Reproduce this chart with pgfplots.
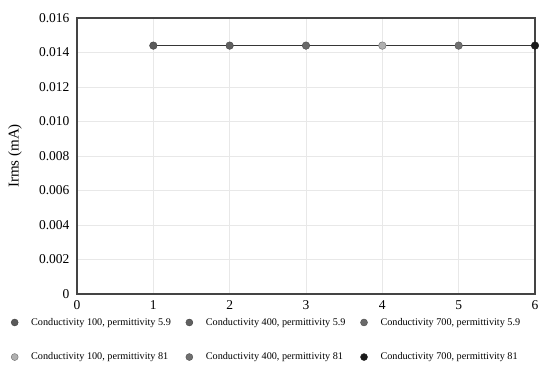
\documentclass[border=0pt]{standalone}
\usepackage{pgfplots}
\pgfplotsset{compat=1.18}
\usepackage{fontspec}
\setmainfont{Liberation Serif}
\definecolor{axc}{HTML}{444444}
\definecolor{gridc}{HTML}{E8E8E8}
\definecolor{sa}{HTML}{5A5A5A}
\definecolor{sb}{HTML}{606060}
\definecolor{sc}{HTML}{6A6A6A}
\definecolor{sd}{HTML}{B0B0B0}
\definecolor{se}{HTML}{707070}
\definecolor{sf}{HTML}{1A1A1A}
\begin{document}
\begin{tikzpicture}
\path[use as bounding box] (-77bp,-71bp) rectangle (468bp,276bp+18bp);
\begin{axis}[
  scale only axis,
  width=458bp, height=276bp,
  xmin=0, xmax=6, ymin=0, ymax=0.016,
  xtick={0,1,2,3,4,5,6},
  ytick={0,0.002,0.004,0.006,0.008,0.010,0.012,0.014,0.016},
  yticklabels={0,0.002,0.004,0.006,0.008,0.010,0.012,0.014,0.016},
  scaled y ticks=false,
  /pgf/number format/assume math mode=true,
  tick style={draw=none},
  major tick length=0pt,
  ticklabel style={font=\fontsize{13.5bp}{15bp}\selectfont},
  xticklabel style={yshift=-3bp},
  yticklabel style={xshift=-4bp},
  grid=major,
  grid style={draw=gridc, line width=0.8bp},
  axis line style={draw=axc, line width=1.2bp},
  ylabel={Irms (mA)},
  every axis y label/.style={at={(-62bp,0.5)}, anchor=center, rotate=90, font=\fontsize{15bp}{17bp}\selectfont},
  legend columns=3,
  legend cell align=left,
  legend style={
    at={(-66bp,-22bp)}, anchor=north west,
    draw=none, fill=none,
    font=\fontsize{10.2bp}{12bp}\selectfont,
    /tikz/every even column/.append style={column sep=13bp},
    /tikz/every odd column/.append style={column sep=11bp},
    row sep=22bp,
    inner sep=0pt,
  },
  legend image code/.code={\draw[#1, mark size=3.5bp] plot coordinates {(0.1cm,0cm)};},
  clip=false,
]
\addplot[draw=axc!80!black, line width=1.5bp, forget plot] coordinates {(1,0.0144) (2,0.0144) (3,0.0144) (4,0.0144) (5,0.0144) (6,0.0144)};
\addplot[only marks, mark=*, mark size=3.8bp, draw=sa!70!black, fill=sa] coordinates {(1,0.0144)};
\addlegendentry{Conductivity 100, permittivity 5.9}
\addplot[only marks, mark=*, mark size=3.8bp, draw=sb!70!black, fill=sb] coordinates {(2,0.0144)};
\addlegendentry{Conductivity 400, permittivity 5.9}
\addplot[only marks, mark=*, mark size=3.8bp, draw=sc!70!black, fill=sc] coordinates {(3,0.0144)};
\addlegendentry{Conductivity 700, permittivity 5.9}
\addplot[only marks, mark=*, mark size=3.8bp, draw=sd!60!black, fill=sd] coordinates {(4,0.0144)};
\addlegendentry{Conductivity 100, permittivity 81}
\addplot[only marks, mark=*, mark size=3.8bp, draw=se!70!black, fill=se] coordinates {(5,0.0144)};
\addlegendentry{Conductivity 400, permittivity 81}
\addplot[only marks, mark=*, mark size=3.8bp, draw=sf, fill=sf] coordinates {(6,0.0144)};
\addlegendentry{Conductivity 700, permittivity 81}
\end{axis}
\end{tikzpicture}
\end{document}
